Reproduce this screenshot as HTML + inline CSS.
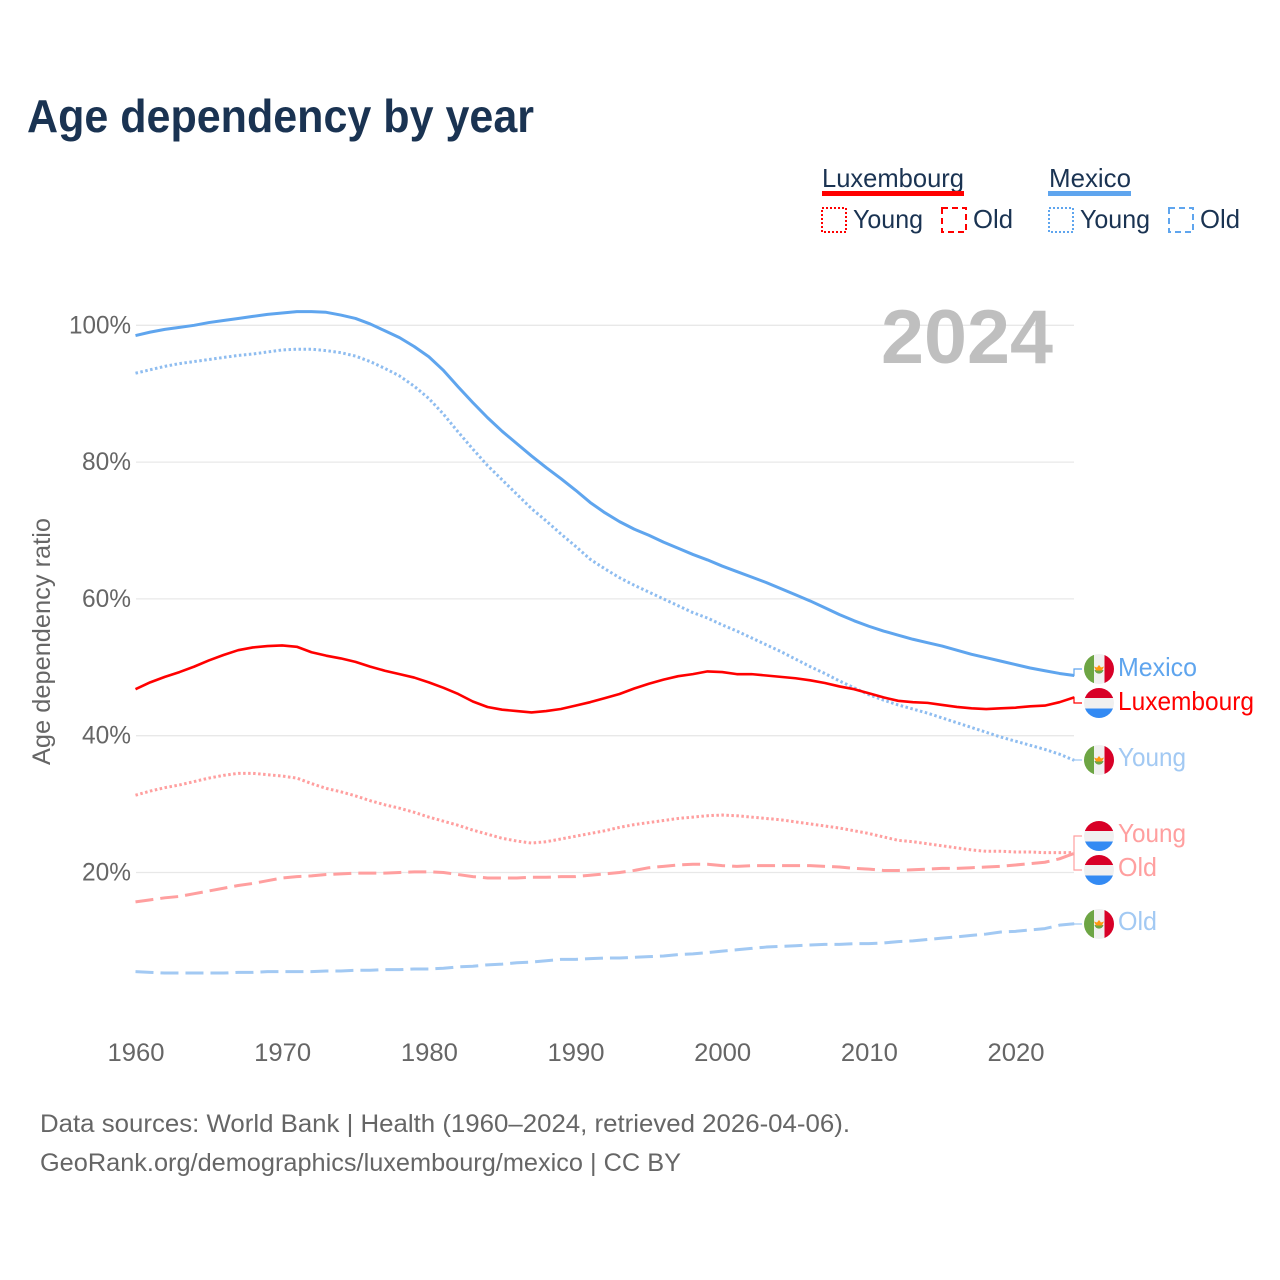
<!DOCTYPE html>
<html lang="en">
<head>
<meta charset="utf-8">
<title>Age dependency by year</title>
<style>
html,body{margin:0;padding:0;background:#fff;}
svg{display:block;font-family:"Liberation Sans",sans-serif;}
</style>
</head>
<body>
<svg id="chart" xmlns="http://www.w3.org/2000/svg" width="1280" height="1280" viewBox="0 0 1280 1280">
  <defs>
    <clipPath id="flag-clip"><circle cx="0" cy="0" r="15"/></clipPath>
    <g id="flag-mx" clip-path="url(#flag-clip)">
      <rect x="-15" y="-15" width="30" height="30" fill="#f0f0f0"/>
      <rect x="-15" y="-15" width="10" height="30" fill="#6da544"/>
      <rect x="5.5" y="-15" width="10" height="30" fill="#d80027"/>
      <path d="M-4.5 1 A4.6 4.6 0 0 0 4.5 1 Z" fill="#6da544"/>
      <path d="M-5 -2.5 L-2 -1.5 L0 -4 L2 -1.5 L5 -2.5 L3 1.5 L-3 1.5 Z" fill="#ff9811"/>
    </g>
    <g id="flag-lu" clip-path="url(#flag-clip)">
      <rect x="-15" y="-15" width="30" height="10" fill="#d80027"/>
      <rect x="-15" y="-5" width="30" height="10.5" fill="#f0f0f0"/>
      <rect x="-15" y="5.5" width="30" height="10" fill="#338af3"/>
    </g>
  </defs>
  <rect x="0" y="0" width="1280" height="1280" fill="#ffffff"/>

  <text x="27" y="132" font-size="46" font-weight="700" fill="#1a3352" textLength="507" lengthAdjust="spacingAndGlyphs">Age dependency by year</text>

  <g fill="#1a3352" font-size="26">
    <text x="822" y="187" textLength="142" lengthAdjust="spacingAndGlyphs">Luxembourg</text>
    <rect x="822" y="191" width="142" height="5" fill="#ff0000"/>
    <rect x="822" y="208" width="24" height="24" fill="none" stroke="#ff0000" stroke-width="2" stroke-dasharray="2 2"/>
    <text x="853" y="228" textLength="70" lengthAdjust="spacingAndGlyphs">Young</text>
    <rect x="942" y="208" width="24" height="24" fill="none" stroke="#ff0000" stroke-width="2" stroke-dasharray="6 4"/>
    <text x="973" y="228" textLength="40" lengthAdjust="spacingAndGlyphs">Old</text>
    <text x="1049" y="187" textLength="82" lengthAdjust="spacingAndGlyphs">Mexico</text>
    <rect x="1048" y="191" width="83" height="5" fill="#5fa5ee"/>
    <rect x="1049" y="208" width="24" height="24" fill="none" stroke="#5fa5ee" stroke-width="2" stroke-dasharray="2 2"/>
    <text x="1080" y="228" textLength="70" lengthAdjust="spacingAndGlyphs">Young</text>
    <rect x="1169" y="208" width="24" height="24" fill="none" stroke="#5fa5ee" stroke-width="2" stroke-dasharray="6 4"/>
    <text x="1200" y="228" textLength="40" lengthAdjust="spacingAndGlyphs">Old</text>
  </g>

  <g id="grid"></g>
  <g id="ticks"></g>

  <text x="881" y="363" font-size="76" font-weight="700" fill="#bfbfbf" textLength="172" lengthAdjust="spacingAndGlyphs">2024</text>

  <text transform="translate(50 765) rotate(-90)" font-size="25" fill="#666666" textLength="247" lengthAdjust="spacingAndGlyphs">Age dependency ratio</text>

  <g id="series"></g>
  <g id="connectors"></g>

  <g font-size="26">
    <use href="#flag-mx" x="1099" y="669"/>
    <text x="1118" y="676" fill="#5fa5ee" textLength="79" lengthAdjust="spacingAndGlyphs">Mexico</text>
    <use href="#flag-lu" x="1099" y="703"/>
    <text x="1118" y="710" fill="#ff0000" textLength="136" lengthAdjust="spacingAndGlyphs">Luxembourg</text>
    <use href="#flag-mx" x="1099" y="760"/>
    <text x="1118" y="766" fill="#a2c9f3" textLength="68" lengthAdjust="spacingAndGlyphs">Young</text>
    <use href="#flag-lu" x="1099" y="836"/>
    <text x="1118" y="842" fill="#ff9f9f" textLength="68" lengthAdjust="spacingAndGlyphs">Young</text>
    <use href="#flag-lu" x="1099" y="870"/>
    <text x="1118" y="876" fill="#ff9f9f" textLength="39" lengthAdjust="spacingAndGlyphs">Old</text>
    <use href="#flag-mx" x="1099" y="924"/>
    <text x="1118" y="930" fill="#a2c9f3" textLength="39" lengthAdjust="spacingAndGlyphs">Old</text>
  </g>

  <text x="40" y="1132" font-size="25" fill="#666666" textLength="810" lengthAdjust="spacingAndGlyphs">Data sources: World Bank | Health (1960–2024, retrieved 2026-04-06).</text>
  <text x="40" y="1171" font-size="25" fill="#666666" textLength="641" lengthAdjust="spacingAndGlyphs">GeoRank.org/demographics/luxembourg/mexico | CC BY</text>
</svg>
<script>
const startYear = 1960;
const xTickLabels = [1960, 1970, 1980, 1990, 2000, 2010, 2020];
const yTickLabels = [20, 40, 60, 80, 100];

const mexicoTotal = [
  98.5, 99.0, 99.4, 99.7, 100.0, 100.4, 100.7, 101.0, 101.3, 101.6,
  101.8, 102.0, 102.0, 101.9, 101.5, 101.0, 100.2, 99.2, 98.2, 96.9,
  95.4, 93.4, 91.0, 88.7, 86.5, 84.5, 82.7, 80.9, 79.2, 77.6,
  75.9, 74.1, 72.6, 71.3, 70.2, 69.3, 68.3, 67.4, 66.5, 65.7,
  64.8, 64.0, 63.2, 62.4, 61.5, 60.6, 59.7, 58.7, 57.7, 56.8,
  56.0, 55.3, 54.7, 54.1, 53.6, 53.1, 52.5, 51.9, 51.4, 50.9,
  50.4, 49.9, 49.5, 49.1, 48.8
];
const mexicoYoung = [
  93.0, 93.5, 94.0, 94.4, 94.7, 95.0, 95.3, 95.6, 95.8, 96.1,
  96.4, 96.5, 96.5, 96.3, 96.0, 95.5, 94.7, 93.7, 92.6, 91.1,
  89.3, 87.0, 84.4, 81.9, 79.5, 77.4, 75.3, 73.2, 71.4, 69.5,
  67.7, 65.8, 64.4, 63.1, 62.0, 61.0, 60.0, 59.0, 58.0, 57.2,
  56.2, 55.3, 54.3, 53.3, 52.3, 51.2, 50.1, 49.1, 48.0, 47.0,
  46.0, 45.2, 44.5, 43.9, 43.3, 42.6, 41.9, 41.2, 40.5, 39.8,
  39.2, 38.6, 38.0, 37.3, 36.4
];
const mexicoOld = [
  5.5, 5.4, 5.3, 5.3, 5.3, 5.3, 5.3, 5.4, 5.4, 5.5,
  5.5, 5.5, 5.5, 5.6, 5.6, 5.7, 5.7, 5.8, 5.8, 5.9,
  5.9, 6.0, 6.2, 6.3, 6.5, 6.6, 6.8, 6.9, 7.1, 7.3,
  7.3, 7.4, 7.5, 7.5, 7.6, 7.7, 7.8, 8.0, 8.1, 8.3,
  8.5, 8.7, 8.9, 9.1, 9.2, 9.3, 9.4, 9.5, 9.5, 9.6,
  9.6, 9.7, 9.9, 10.0, 10.2, 10.4, 10.6, 10.8, 11.0, 11.3,
  11.4, 11.6, 11.8, 12.3, 12.5
];
const luxembourgTotal = [
  46.8, 47.8, 48.6, 49.3, 50.1, 51.0, 51.8, 52.5, 52.9, 53.1,
  53.2, 53.0, 52.2, 51.7, 51.3, 50.8, 50.1, 49.5, 49.0, 48.5,
  47.8, 47.0, 46.1, 45.0, 44.2, 43.8, 43.6, 43.4, 43.6, 43.9,
  44.4, 44.9, 45.5, 46.1, 46.9, 47.6, 48.2, 48.7, 49.0, 49.4,
  49.3, 49.0, 49.0, 48.8, 48.6, 48.4, 48.1, 47.7, 47.2, 46.8,
  46.2, 45.6, 45.1, 44.9, 44.8, 44.5, 44.2, 44.0, 43.9, 44.0,
  44.1, 44.3, 44.4, 44.9, 45.6
];
const luxembourgYoung = [
  31.3, 31.9, 32.4, 32.8, 33.3, 33.8, 34.2, 34.5, 34.5, 34.3,
  34.1, 33.8, 33.0, 32.3, 31.8, 31.2, 30.5, 29.9, 29.4, 28.8,
  28.1, 27.5, 26.9, 26.2, 25.6, 25.0, 24.6, 24.3, 24.5, 24.9,
  25.3, 25.7, 26.1, 26.6, 27.0, 27.3, 27.6, 27.9, 28.1, 28.3,
  28.4, 28.3, 28.1, 27.9, 27.7, 27.4, 27.1, 26.8, 26.5, 26.1,
  25.7, 25.2, 24.7, 24.5, 24.2, 23.9, 23.6, 23.3, 23.1, 23.1,
  23.0, 23.0, 22.9, 22.9, 22.9
];
const luxembourgOld = [
  15.7, 16.0, 16.3, 16.5, 16.9, 17.3, 17.7, 18.1, 18.4, 18.8,
  19.2, 19.4, 19.5, 19.7, 19.8, 19.9, 19.9, 19.9, 20.0, 20.1,
  20.1, 20.0, 19.7, 19.4, 19.2, 19.2, 19.2, 19.3, 19.3, 19.4,
  19.4, 19.6, 19.8, 20.0, 20.3, 20.7, 20.9, 21.1, 21.2, 21.2,
  21.0, 20.9, 21.0, 21.0, 21.0, 21.0, 21.0, 20.9, 20.8, 20.6,
  20.5, 20.3, 20.3, 20.4, 20.5, 20.6, 20.6, 20.7, 20.8, 20.9,
  21.1, 21.3, 21.5, 22.0, 22.8
];

const NS = 'http://www.w3.org/2000/svg';
function xScale(year) { return 135.5 + (year - 1960) * 14.667; }
function yScale(pct) { return 872.5 - (pct - 20) * 6.84; }

function make(tag, attrs, parent, text) {
  const el = document.createElementNS(NS, tag);
  for (const k in attrs) el.setAttribute(k, attrs[k]);
  if (text !== undefined) el.textContent = text;
  parent.appendChild(el);
  return el;
}

const gridGroup = document.getElementById('grid');
const tickGroup = document.getElementById('ticks');
const seriesGroup = document.getElementById('series');
const connectorGroup = document.getElementById('connectors');

yTickLabels.forEach(function (v) {
  const line = make('line', { x1: 136, x2: 1074, y1: yScale(v), y2: yScale(v), stroke: '#e8e8e8', 'stroke-width': 1.3 }, gridGroup);
  
  
  const label = make('text', { x: 131, y: yScale(v) + 8, 'text-anchor': 'end', 'font-size': 25, fill: '#666666', textLength: v === 100 ? 62 : 49, lengthAdjust: 'spacingAndGlyphs' }, tickGroup, v + '%');
  
  
});

xTickLabels.forEach(function (year) {
  const label = make('text', { x: xScale(year) + 0.5, y: 1061, 'text-anchor': 'middle', 'font-size': 25, fill: '#666666', textLength: 57, lengthAdjust: 'spacingAndGlyphs' }, tickGroup, String(year));
  
  
});

function drawSeries(values, name, color, width, dash) {
  const d = values.map(function (v, i) {
    return (i ? 'L' : 'M') + xScale(startYear + i).toFixed(2) + ' ' + yScale(v).toFixed(2);
  }).join(' ');
  const attrs = { d: d, fill: 'none', stroke: color, 'stroke-width': width, 'stroke-linejoin': 'round' };
  if (dash) attrs['stroke-dasharray'] = dash;
  const path = make('path', attrs, seriesGroup);
  
  
}

function drawConnector(values, name, color, labelY) {
  const endX = xScale(startYear + values.length - 1);
  const endY = yScale(values[values.length - 1]);
  const pts = [[endX - 1, endY], [1074, endY], [1074, labelY], [1082, labelY]];
  const line = make('polyline', { points: pts.map(function (p) { return p.join(','); }).join(' '), fill: 'none', stroke: color, 'stroke-width': 1.2 }, connectorGroup);
  
  
}

drawSeries(mexicoOld, 'line-mexico-old', '#a2c9f3', 3, '18 7');
drawSeries(luxembourgOld, 'line-luxembourg-old', '#ff9f9f', 3, '18 7');
drawSeries(luxembourgYoung, 'line-luxembourg-young', '#ff9f9f', 3, '2.5 2.5');
drawSeries(mexicoYoung, 'line-mexico-young', '#8fbdf0', 3, '2.5 2.5');
drawSeries(luxembourgTotal, 'line-luxembourg-total', '#ff0000', 2.6);
drawSeries(mexicoTotal, 'line-mexico-total', '#5fa5ee', 3);

drawConnector(mexicoTotal, 'connector-mexico', '#5fa5ee', 669);
drawConnector(luxembourgTotal, 'connector-luxembourg', '#ff0000', 703);
drawConnector(mexicoYoung, 'connector-mexico-young', '#a2c9f3', 760);
drawConnector(luxembourgYoung, 'connector-luxembourg-young', '#ff9f9f', 836);
drawConnector(luxembourgOld, 'connector-luxembourg-old', '#ff9f9f', 870);
drawConnector(mexicoOld, 'connector-mexico-old', '#a2c9f3', 924);
</script>
</body>
</html>
